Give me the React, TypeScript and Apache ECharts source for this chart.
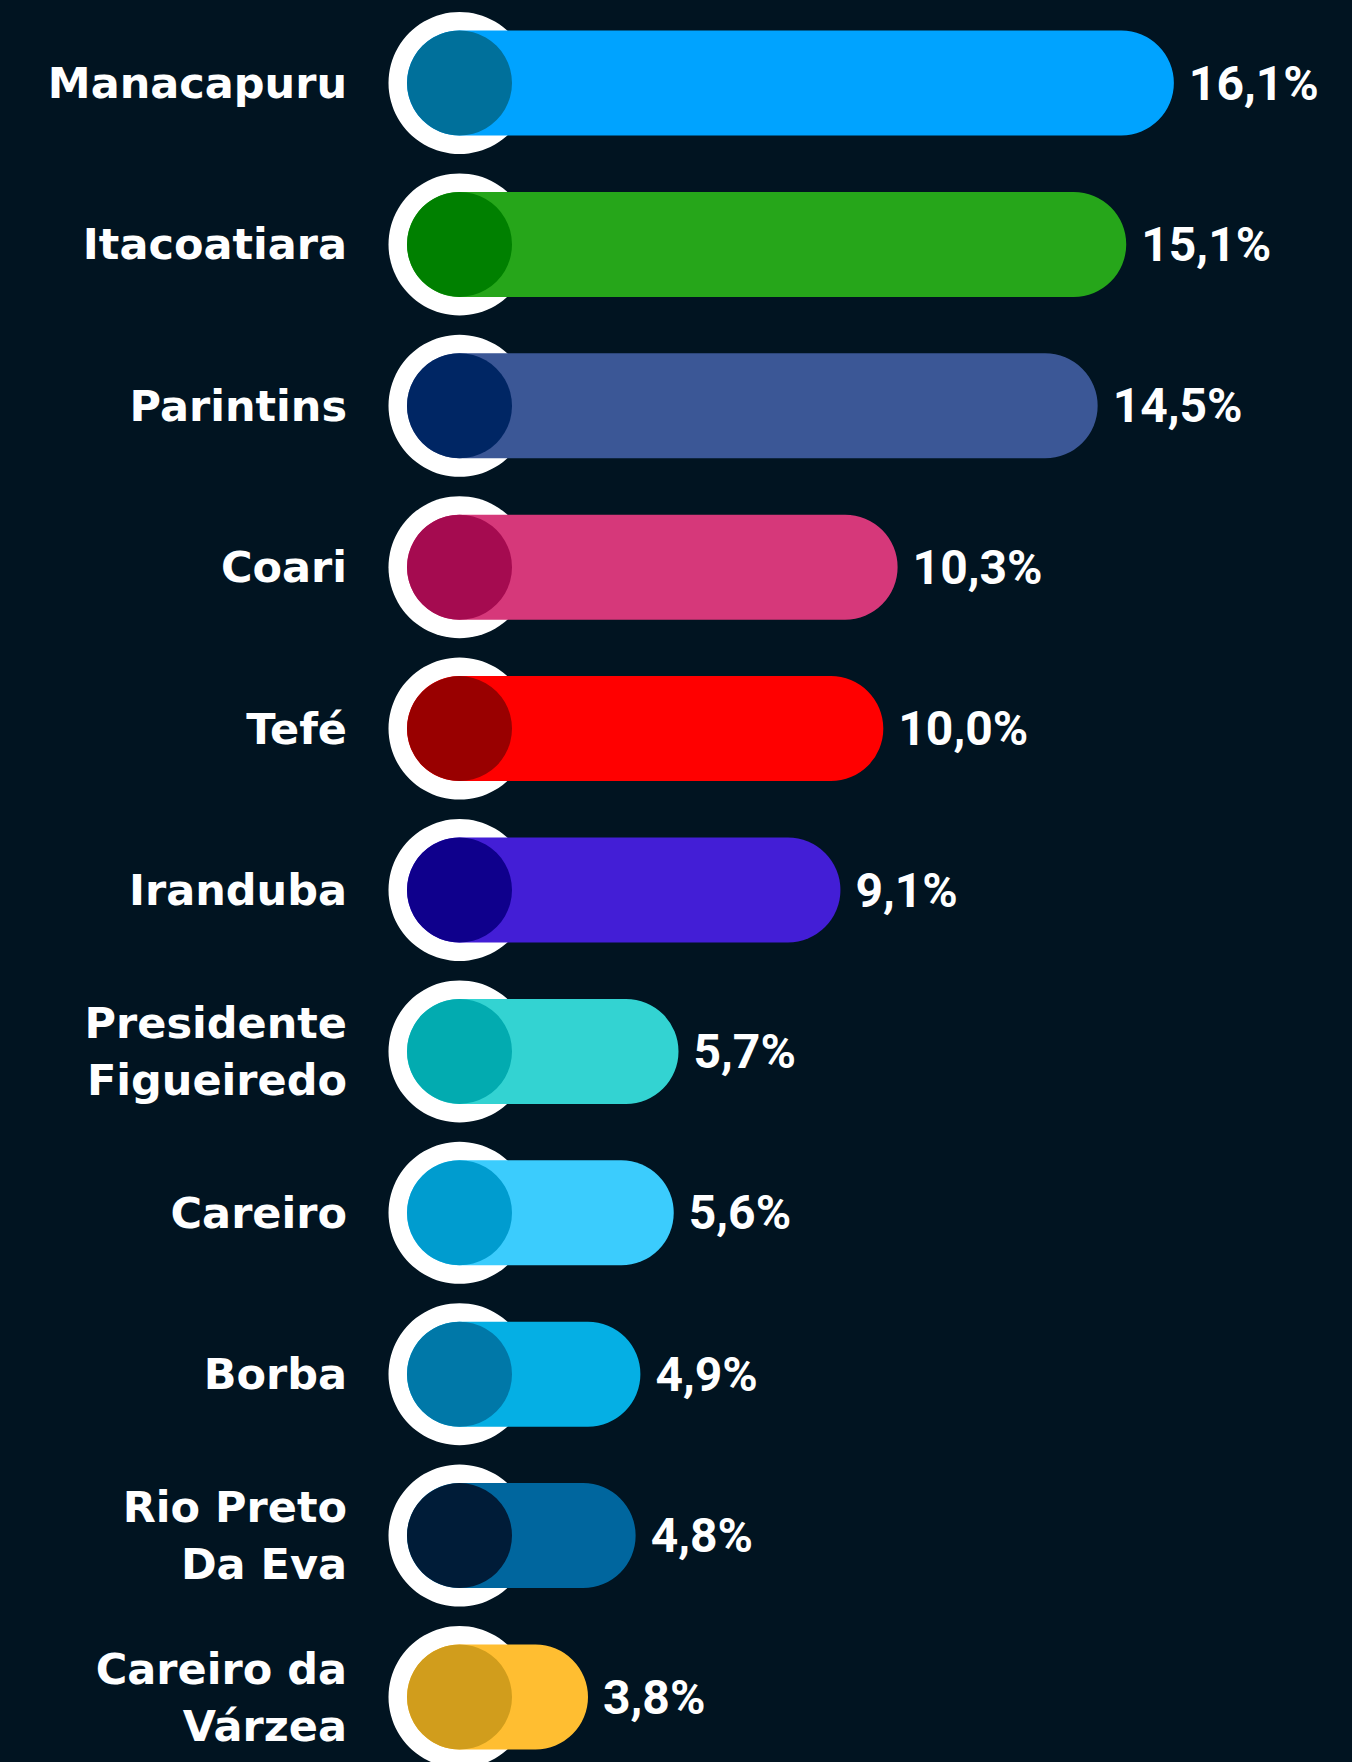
import React, { useEffect, useRef } from "react";
import * as echarts from "echarts";

const categories: string[] = [
  "Manacapuru",
  "Itacoatiara",
  "Parintins",
  "Coari",
  "Tefé",
  "Iranduba",
  "Presidente\nFigueiredo",
  "Careiro",
  "Borba",
  "Rio Preto\nDa Eva",
  "Careiro da\nVárzea",
];

const values: number[] = [16.1, 15.1, 14.5, 10.3, 10.0, 9.1, 5.7, 5.6, 4.9, 4.8, 3.8];

const barColors: string[] = [
  "#00A3FF",
  "#26A61A",
  "#3B5796",
  "#D6387A",
  "#FF0000",
  "#431ED6",
  "#33D3D2",
  "#3BCCFD",
  "#05AFE4",
  "#00669E",
  "#FFBE31",
];

const capColors: string[] = [
  "#00709B",
  "#008000",
  "#002664",
  "#A50B50",
  "#990000",
  "#0F008C",
  "#02ABB0",
  "#009CCF",
  "#0078A8",
  "#001C38",
  "#D19D1C",
];

const fmt = (v: number) => v.toFixed(1).replace(".", ",") + "%";

export default function App() {
  const ref = useRef<HTMLDivElement>(null);

  useEffect(() => {
    if (!ref.current) return;
    const chart = echarts.init(ref.current, null, { renderer: "svg" });
    const R_OUT = 71;
    const R_IN = 52.5;
    chart.setOption({
      animation: false,
      backgroundColor: "#011421",
      grid: { left: 407, right: 40, top: 83, bottom: 65 },
      xAxis: {
        type: "value",
        min: 0,
        max: 19,
        show: false,
      },
      yAxis: {
        type: "category",
        data: categories,
        inverse: true,
        boundaryGap: false,
        axisLine: { show: false },
        axisTick: { show: false },
        splitLine: { show: false },
        axisLabel: {
          margin: 60,
          color: "#FFFFFF",
          fontFamily: "DejaVu Sans",
          fontWeight: "bold",
          fontSize: 43,
          lineHeight: 57,
          align: "right",
        },
      },
      series: [
        {
          type: "custom",
          clip: false,
          data: values.map((v, i) => [v, i]),
          encode: { x: 0, y: 1 },
          renderItem: (params: any, api: any) => {
            const v = api.value(0);
            const idx = api.value(1);
            const start = api.coord([0, idx]);
            const end = api.coord([v, idx]);
            const cx = start[0] + R_IN;
            const cy = start[1];
            return {
              type: "group",
              children: [
                {
                  type: "circle",
                  shape: { cx, cy, r: R_OUT },
                  style: { fill: "#FFFFFF" },
                },
                {
                  type: "rect",
                  shape: {
                    x: start[0],
                    y: cy - R_IN,
                    width: end[0] - start[0],
                    height: R_IN * 2,
                    r: R_IN,
                  },
                  style: { fill: barColors[idx] },
                },
                {
                  type: "circle",
                  shape: { cx, cy, r: R_IN },
                  style: { fill: capColors[idx] },
                },
                {
                  type: "text",
                  style: {
                    x: end[0] + 15,
                    y: cy,
                    text: fmt(v),
                    fill: "#FFFFFF",
                    fontFamily: "Roboto",
                    fontWeight: "bold",
                    fontSize: 48,
                    align: "left",
                    verticalAlign: "middle",
                  },
                },
              ],
            };
          },
        },
      ],
    });
    return () => chart.dispose();
  }, []);

  return (
    <div
      ref={ref}
      style={{ position: "fixed", left: 0, top: 0, width: 1352, height: 1762 }}
    />
  );
}
